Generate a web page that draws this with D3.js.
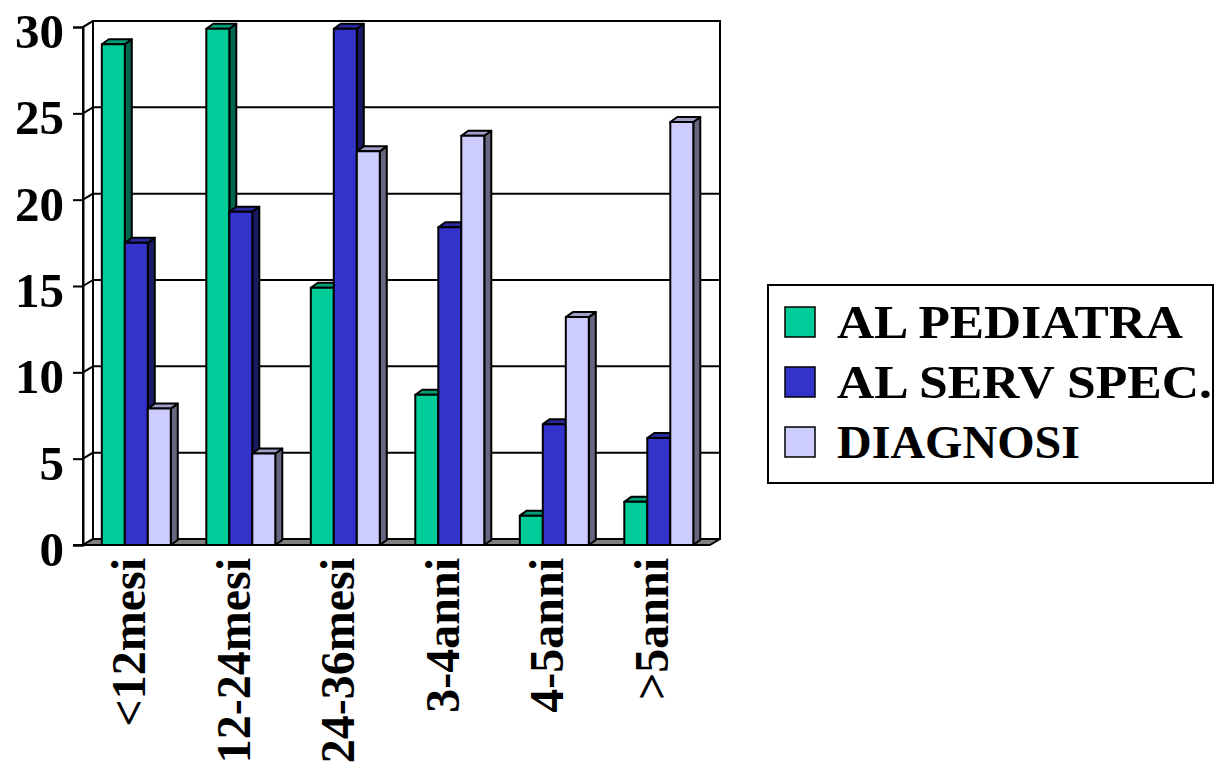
<!DOCTYPE html>
<html>
<head>
<meta charset="utf-8">
<script src="https://cdn.jsdelivr.net/npm/d3@7/dist/d3.min.js"></script>
<style>
  html, body { margin: 0; padding: 0; background: #fff; }
  svg { display: block; }
  text { font-family: "Liberation Serif", "Times New Roman", serif; font-weight: bold; fill: #000; }
</style>
</head>
<body>
<svg id="chart" width="1215" height="765"></svg>
<script>
// Age at which the first referral / diagnosis happened
const categories = ["<12mesi", "12-24mesi", "24-36mesi", "3-4anni", "4-5anni", ">5anni"];
const series = ["AL PEDIATRA", "AL SERV SPEC.", "DIAGNOSI"];
const alPediatra = [29, 29.9, 14.9, 8.7, 1.7, 2.5];
const alServSpec = [17.5, 19.3, 29.9, 18.4, 7.0, 6.2];
const diagnosi   = [7.9, 5.3, 22.8, 23.7, 13.2, 24.5];
const yTicks = [0, 5, 10, 15, 20, 25, 30];

const values = [alPediatra, alServSpec, diagnosi];
const colors = ["#00CC99", "#3333CC", "#CCCCFF"];
const legendWidths = [346, 375, 243];

// darker shades for the side and top faces of each 3D column
const shade = (c, k) => { const r = d3.rgb(c); return d3.rgb(r.r * k, r.g * k, r.b * k).formatHex(); };

const svg = d3.select("#chart");

const plotLeft = 83, plotRight = 710, plotBottom = 545, plotTop = 27;
const wallDx = 10, wallDy = -6;   // depth of the floor / side wall
const barDx = 7, barDy = -5;      // depth of each column

const y = d3.scaleLinear().domain([0, 30]).range([plotBottom, plotTop]);
const x = d3.scaleBand().domain(categories).range([plotLeft, plotRight]);
const bw = x.bandwidth();
const xs = d3.scaleBand().domain(series).range([bw * 0.18, bw * 0.84]);

const line = d3.line();
const poly = pts => line(pts) + "Z";

// back wall
svg.append("rect")
  .attr("x", plotLeft + wallDx).attr("y", plotTop + wallDy)
  .attr("width", plotRight - plotLeft).attr("height", plotBottom - plotTop)
  .attr("fill", "#fff").attr("stroke", "#000").attr("stroke-width", 2);

// gridlines on the back wall
svg.append("g").selectAll("line").data(yTicks.filter(d => d > 0)).join("line")
  .attr("x1", plotLeft + wallDx).attr("x2", plotRight + wallDx)
  .attr("y1", d => y(d) + wallDy).attr("y2", d => y(d) + wallDy)
  .attr("stroke", "#000").attr("stroke-width", 2);

// left side wall
svg.append("path")
  .attr("d", poly([[plotLeft, plotTop], [plotLeft + wallDx, plotTop + wallDy], [plotLeft + wallDx, plotBottom + wallDy], [plotLeft, plotBottom]]))
  .attr("fill", "#fff").attr("stroke", "#000").attr("stroke-width", 2).attr("stroke-linejoin", "round");

// gridline returns on the side wall
svg.append("g").selectAll("line").data(yTicks).join("line")
  .attr("x1", plotLeft).attr("x2", plotLeft + wallDx)
  .attr("y1", d => y(d)).attr("y2", d => y(d) + wallDy)
  .attr("stroke", "#000").attr("stroke-width", 2);

// floor
svg.append("path")
  .attr("d", poly([[plotLeft, plotBottom], [plotLeft + wallDx, plotBottom + wallDy], [plotRight + wallDx, plotBottom + wallDy], [plotRight, plotBottom]]))
  .attr("fill", "#808080").attr("stroke", "#000").attr("stroke-width", 2).attr("stroke-linejoin", "round");

// y axis with ticks
const yAxis = svg.append("g").attr("transform", `translate(${plotLeft},0)`)
  .call(d3.axisLeft(y).tickValues(yTicks).tickSize(10).tickPadding(9).tickFormat(d3.format("d")));
yAxis.select(".domain").attr("stroke", "#000").attr("stroke-width", 2);
yAxis.selectAll(".tick line").attr("stroke", "#000").attr("stroke-width", 2);
yAxis.selectAll(".tick text")
  .attr("font-size", 49).attr("font-family", "Liberation Serif, Times New Roman, serif")
  .attr("font-weight", "bold").attr("fill", "#000").attr("dy", "0.42em");

// 3D columns, left to right so each column covers its neighbour's side face
const bars = [];
categories.forEach((c, i) => {
  series.forEach((s, j) => bars.push({ c, s, j, v: values[j][i] }));
});

const g = svg.append("g");
bars.forEach(b => {
  const x0 = x(b.c) + xs(b.s), w = xs.bandwidth(), y0 = y(b.v), yb = y(0);
  const col = colors[b.j];
  const bar = g.append("g");
  bar.append("path")
    .attr("d", poly([[x0 + w, y0], [x0 + w + barDx, y0 + barDy], [x0 + w + barDx, yb + barDy], [x0 + w, yb]]))
    .attr("fill", shade(col, 0.5));
  bar.append("path")
    .attr("d", poly([[x0, y0], [x0 + barDx, y0 + barDy], [x0 + w + barDx, y0 + barDy], [x0 + w, y0]]))
    .attr("fill", shade(col, 0.78));
  bar.append("rect").attr("x", x0).attr("y", y0).attr("width", w).attr("height", yb - y0)
    .attr("fill", col);
  bar.selectAll("path, rect").attr("stroke", "#000").attr("stroke-width", 2).attr("stroke-linejoin", "round");
});

// front edge of the floor
svg.append("line").attr("x1", plotLeft - 10).attr("x2", plotRight).attr("y1", plotBottom).attr("y2", plotBottom)
  .attr("stroke", "#000").attr("stroke-width", 2);

// category labels, rotated
svg.append("g").selectAll("text").data(categories).join("text")
  .attr("transform", d => `translate(${x(d) + bw / 2 + 10},558) rotate(-90)`)
  .attr("text-anchor", "end")
  .attr("font-size", 48)
  .text(d => d);

// legend
const lg = svg.append("g");
lg.append("rect").attr("x", 768).attr("y", 285).attr("width", 445).attr("height", 198)
  .attr("fill", "#fff").attr("stroke", "#000").attr("stroke-width", 2);
const items = lg.selectAll("g.item").data(series).join("g").attr("class", "item")
  .attr("transform", (d, i) => `translate(785,${307 + i * 60})`);
items.append("rect").attr("width", 30).attr("height", 30)
  .attr("fill", (d, i) => colors[i]).attr("stroke", "#000").attr("stroke-width", 1.5);
items.append("text").attr("x", 52).attr("y", 31).attr("font-size", 47)
  .attr("textLength", (d, i) => legendWidths[i]).attr("lengthAdjust", "spacingAndGlyphs")
  .text(d => d);
</script>
</body>
</html>
